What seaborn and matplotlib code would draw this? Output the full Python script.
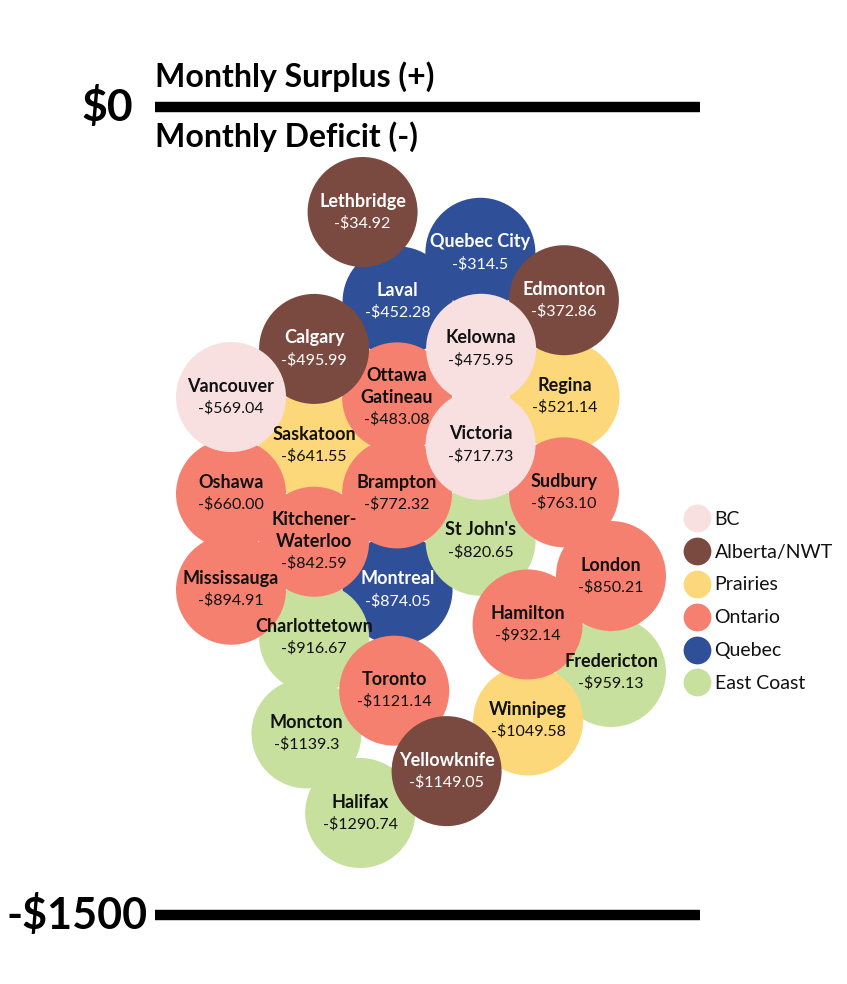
import numpy as np
import pandas as pd
import matplotlib.pyplot as plt
import seaborn as sns
from matplotlib.lines import Line2D

sns.set_style('white')
plt.rcParams['font.family'] = ['Lato', 'DejaVu Sans']
plt.rcParams['text.color'] = 'black'

# data
cities = ['Quebec City', 'Laval', 'Montreal',
          "St John's", 'Charlottetown', 'Fredericton', 'Moncton', 'Halifax',
          'Regina', 'Saskatoon', 'Winnipeg',
          'Ottawa\nGatineau', 'Oshawa', 'Sudbury', 'Brampton', 'Kitchener-\nWaterloo',
          'London', 'Mississauga', 'Hamilton', 'Toronto',
          'Lethbridge', 'Edmonton', 'Calgary', 'Yellowknife',
          'Kelowna', 'Vancouver', 'Victoria']
regions = ['Quebec', 'Quebec', 'Quebec',
           'East Coast', 'East Coast', 'East Coast', 'East Coast', 'East Coast',
           'Prairies', 'Prairies', 'Prairies',
           'Ontario', 'Ontario', 'Ontario', 'Ontario', 'Ontario',
           'Ontario', 'Ontario', 'Ontario', 'Ontario',
           'Alberta/NWT', 'Alberta/NWT', 'Alberta/NWT', 'Alberta/NWT',
           'BC', 'BC', 'BC']
deficit = [-314.5, -452.28, -874.05,
           -820.65, -916.67, -959.13, -1139.3, -1290.74,
           -521.14, -641.55, -1049.58,
           -483.08, -660.00, -763.10, -772.32, -842.59,
           -850.21, -894.91, -932.14, -1121.14,
           -34.92, -372.86, -495.99, -1149.05,
           -475.95, -569.04, -717.73]
value_labels = ['-$314.5', '-$452.28', '-$874.05',
                '-$820.65', '-$916.67', '-$959.13', '-$1139.3', '-$1290.74',
                '-$521.14', '-$641.55', '-$1049.58',
                '-$483.08', '-$660.00', '-$763.10', '-$772.32', '-$842.59',
                '-$850.21', '-$894.91', '-$932.14', '-$1121.14',
                '-$34.92', '-$372.86', '-$495.99', '-$1149.05',
                '-$475.95', '-$569.04', '-$717.73']

region_order = ['BC', 'Alberta/NWT', 'Prairies', 'Ontario', 'Quebec', 'East Coast']
region_colors = ['#f8e0e0', '#7a4a41', '#fcd87a', '#f68070', '#2f4f99', '#c7e09e']
palette = dict(zip(region_order, region_colors))
dark = ['Alberta/NWT', 'Quebec']

df = pd.DataFrame({'city': cities, 'region': regions, 'deficit': deficit,
                   'label': value_labels})

# layout: pixels per dollar (lines at $0 and -$1500)
PX = 808 / 1500
RC = 48 / PX           # collision radius (circles overlap a bit)
cx = 421 / PX
xmin, xmax = 231 / PX, 611 / PX
ytop = -(188 - 107) / PX
# keep circles clear of the "Monthly Deficit" header on the left side
ytop_text = -(212 - 107) / PX
text_edge = 478 / PX


def clamp(x, y):
    x = np.clip(x, xmin, xmax)
    y = np.minimum(y, np.where(x < text_edge, ytop_text, ytop))
    return x, y


def collide(x, y, rounds):
    for _ in range(rounds):
        dx = x[:, None] - x[None, :]
        dy = y[:, None] - y[None, :]
        d = np.hypot(dx, dy) + np.eye(len(x))
        ov = np.clip(2 * RC - d, 0, None)
        np.fill_diagonal(ov, 0)
        push = 0.3 * ov / d
        x = x + (push * dx).sum(1)
        y = y + (push * dy).sum(1)
        x, y = clamp(x, y)
    return x, y


# simple force layout: pull y to value, x to centre, resolve collisions
n = len(df)
target = df['deficit'].values.astype(float)
idx = np.arange(n)
ang = idx * np.pi * (3 - np.sqrt(5))
x = cx + 150 * np.cos(ang)
y = target + 20 * np.sin(ang)
for step in range(600):
    x = x + 0.002 * (cx - x)
    y = y + 0.03 * (target - y)
    x, y = collide(x, y, 8)
x, y = collide(x, y, 300)
df['x'] = x
df['y'] = y

fig = plt.figure(figsize=(8.47, 9.84), dpi=100)
ax = fig.add_axes([0, 0, 1, 1])
ax.set_xlim(0, 847 / PX)
ax.set_ylim(-(984 - 107) / PX, 107 / PX)
ax.axis('off')

# circles: size in points^2 for radius of 55 px
diam_pt = 2 * 55 * 72 / 100
sns.scatterplot(data=df, x='x', y='y', hue='region', palette=palette,
                s=diam_pt ** 2, linewidth=0, alpha=1, legend=False, ax=ax, zorder=2)

# labels
step_pt = 15.8
for _, row in df.iterrows():
    lines = row['city'].split('\n')
    nl = len(lines) + 1
    col = 'white' if row['region'] in dark else '#111111'
    for k, t in enumerate(lines + [row['label']]):
        off = ((nl - 1) / 2 - k) * step_pt
        ax.annotate(t, (row['x'], row['y']), xytext=(0, off), textcoords='offset points',
                    ha='center', va='center', color=col, zorder=5,
                    fontsize=13 if k < len(lines) else 11.5,
                    fontweight='bold' if k < len(lines) else 'normal')

# axis lines and header texts
x0, x1 = 155 / PX, 700 / PX
ax.hlines([0, -1500], x0, x1, color='black', linewidth=7.5, capstyle='butt', zorder=1)
ax.text(x0, 30 / PX, 'Monthly Surplus (+)', fontsize=23, fontweight='bold',
        ha='left', va='center')
ax.text(x0, -30 / PX, 'Monthly Deficit (-)', fontsize=23, fontweight='bold',
        ha='left', va='center')
ax.text(133 / PX, 0, '$0', fontsize=32, fontweight='bold', ha='right', va='center')
ax.text(148 / PX, -1500, '-$1500', fontsize=31, fontweight='bold', ha='right', va='center')

handles = [Line2D([], [], marker='o', linestyle='', markersize=20,
                  markerfacecolor=c, markeredgewidth=0) for c in region_colors]
leg = ax.legend(handles, region_order, loc='upper left', bbox_to_anchor=(0.8, 0.491),
                frameon=False, fontsize=14, handlelength=1.0, handletextpad=0.4,
                labelspacing=0.82, borderpad=0)
for t in leg.get_texts():
    t.set_color('#111111')

fig.savefig('out.png', dpi=100)
